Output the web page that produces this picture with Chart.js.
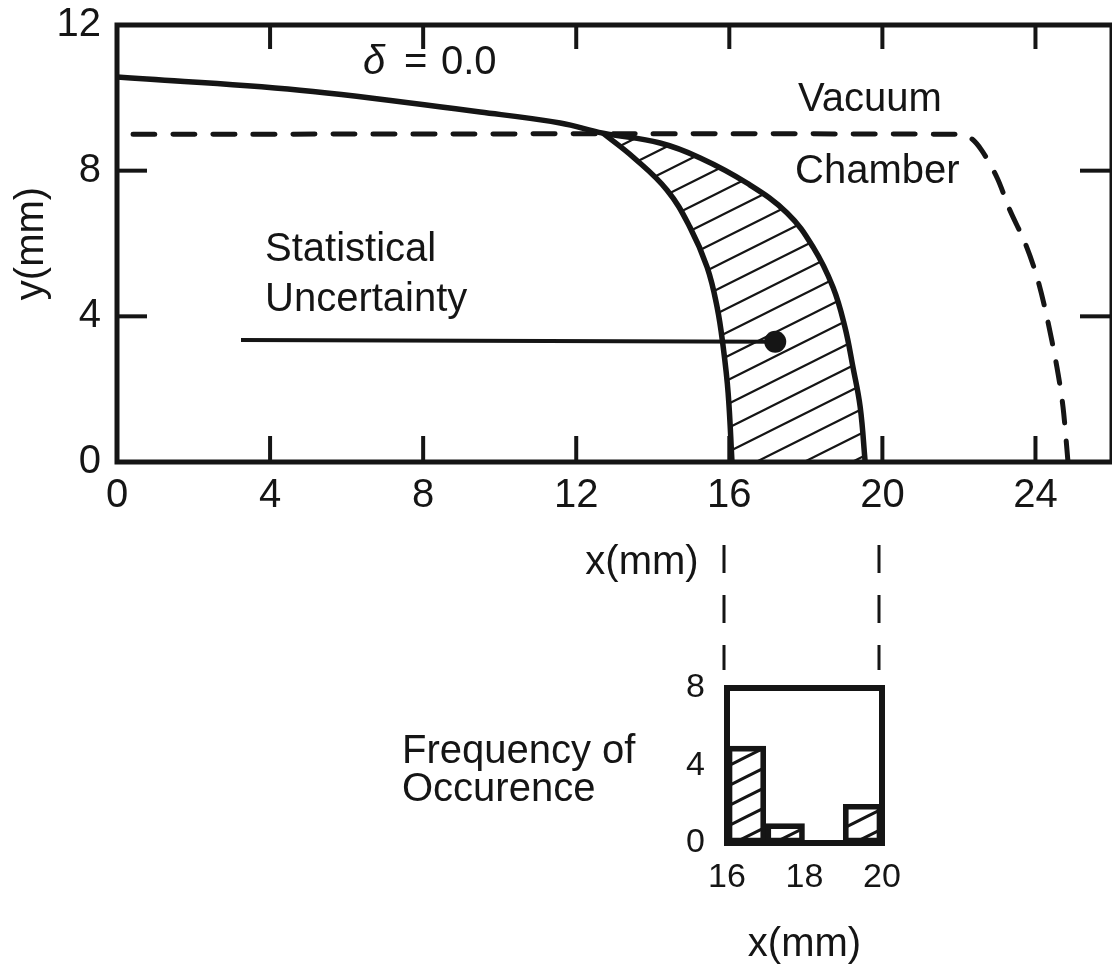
<!DOCTYPE html>
<html>
<head>
<meta charset="utf-8">
<script src="https://cdn.jsdelivr.net/npm/chart.js@4/dist/chart.umd.min.js"></script>
<style>
  html, body { margin: 0; padding: 0; background: #fff; }
  body { width: 1112px; height: 970px; position: relative; overflow: hidden; }
  canvas { position: absolute; }
  #main { left: 0; top: 0; }
  #inset { left: 380px; top: 520px; }
</style>
</head>
<body>
<canvas id="main" width="1112" height="600"></canvas>
<canvas id="inset" width="560" height="450"></canvas>
<script>
// beam envelope for delta = 0.0: top edge, then the outer side of the band
const envX = [0, 4.78, 9.49, 11.58, 12.7, 14.19, 15.24, 16.46, 17.51, 18.19, 18.71, 19.02, 19.23, 19.42, 19.55];
const envY = [10.57, 10.21, 9.61, 9.31, 9.03, 8.76, 8.35, 7.66, 6.84, 5.9, 4.8, 3.71, 2.61, 1.51, 0];
// inner side of the uncertainty band
const innerX = [12.7, 13.49, 14.37, 14.97, 15.42, 15.68, 15.84, 15.97, 16.07];
const innerY = [9.03, 8.37, 7.47, 6.45, 5.35, 4.26, 3.16, 1.89, 0];
// vacuum chamber wall (dashed)
const wallX = [0.42, 21.9, 22.3, 22.6, 23.0, 23.33, 23.73, 24.04, 24.3, 24.56, 24.72, 24.85];
const wallY = [9, 9, 8.9, 8.55, 7.8, 6.92, 6.01, 5.08, 3.98, 2.61, 1.51, 0];
// "Statistical Uncertainty" pointer and its dot
const pointerX = [3.24, 17.2];
const pointerY = [3.35, 3.3];

const xTicks = [0, 4, 8, 12, 16, 20, 24];
const yTicks = [0, 4, 8, 12];

// frequency of occurrence histogram
const binCenters = [16.5, 17.5, 18.5, 19.5];
const binCounts = [5, 1, 0, 2];
const histXTicks = [16, 18, 20];
const histYTicks = [0, 4, 8];

const ink = '#151515';
const family = "'Liberation Sans', Arial, Helvetica, sans-serif";
Chart.defaults.font.family = family;
Chart.defaults.color = ink;

function hatch(gap, width) {
  const c = document.createElement('canvas');
  c.width = gap * 2; c.height = gap;
  const g = c.getContext('2d');
  g.strokeStyle = ink; g.lineWidth = width;
  for (let k = -2; k <= 2; k++) {
    g.beginPath();
    g.moveTo(-gap * 2, gap * (k + 2));
    g.lineTo(gap * 4, gap * (k - 1));
    g.stroke();
  }
  return g.createPattern(c, 'repeat');
}

const pts = (xs, ys) => xs.map((x, i) => ({ x, y: ys[i] }));
const split = envX.indexOf(innerX[0]);
const band = pts(envX.slice(split), envY.slice(split)).concat(pts(innerX, innerY).reverse());

function seg(ctx, x1, y1, x2, y2) {
  ctx.beginPath(); ctx.moveTo(x1, y1); ctx.lineTo(x2, y2); ctx.stroke();
}

// keep the plot box where the figure has it, whatever the label sizes
function noPad(s) {
  s.paddingTop = 0; s.paddingBottom = 0; s.paddingLeft = 0; s.paddingRight = 0;
}

const mainFrame = {
  id: 'mainFrame',
  afterDatasetsDraw(chart) {
    const { ctx, chartArea: a, scales: { x, y } } = chart;
    ctx.save();
    ctx.strokeStyle = ink;
    ctx.lineWidth = 4;
    x.ticks.forEach(t => {
      if (t.value <= x.min || t.value >= x.max) return;
      const px = x.getPixelForValue(t.value);
      seg(ctx, px, a.bottom, px, a.bottom - 26);
      seg(ctx, px, a.top, px, a.top + 24);
    });
    y.ticks.forEach(t => {
      if (t.value <= y.min || t.value >= y.max) return;
      const py = y.getPixelForValue(t.value);
      seg(ctx, a.left, py, a.left + 30, py);
      seg(ctx, a.right, py, a.right - 32, py);
    });
    ctx.lineWidth = 5;
    ctx.strokeRect(a.left, a.top, a.right - a.left, a.bottom - a.top);

    ctx.fillStyle = ink;
    ctx.textBaseline = 'middle';
    ctx.textAlign = 'left';
    ctx.font = 'italic 40px ' + family;
    ctx.fillText('δ', 363, 63);
    ctx.font = '40px ' + family;
    ctx.fillText('=', 404, 63);
    ctx.fillText('0.0', 441, 63);
    ctx.fillText('Vacuum', 798, 100);
    ctx.fillText('Chamber', 795, 172);
    ctx.fillText('Statistical', 265, 250);
    ctx.fillText('Uncertainty', 265, 300);
    ctx.textAlign = 'center';
    ctx.fillText('x(mm)', 642, 563);
    ctx.restore();
  }
};

new Chart(document.getElementById('main'), {
  type: 'scatter',
  data: {
    datasets: [
      { data: pts(envX, envY), showLine: true, borderColor: ink, borderWidth: 5.5, tension: 0.4, pointRadius: 0 },
      { data: pts(innerX, innerY), showLine: true, borderColor: ink, borderWidth: 5.5, tension: 0.4, pointRadius: 0 },
      { data: pts(wallX, wallY), showLine: true, borderColor: ink, borderWidth: 5, borderDash: [22, 18],
        borderCapStyle: 'round', tension: 0.3, pointRadius: 0 },
      { data: pts(pointerX, pointerY), showLine: true, borderColor: ink, borderWidth: 4,
        pointRadius: [0, 11], pointBackgroundColor: ink, pointBorderWidth: 0 },
      { data: band, showLine: true, borderWidth: 0, borderColor: 'rgba(0,0,0,0)',
        backgroundColor: hatch(24, 2.2), fill: 'shape', tension: 0, pointRadius: 0 },
    ],
  },
  options: {
    responsive: false,
    animation: false,
    events: [],
    layout: { autoPadding: false, padding: { top: 25, right: 0, left: 0, bottom: 0 } },
    plugins: { legend: { display: false }, tooltip: { enabled: false } },
    scales: {
      x: {
        type: 'linear', min: 0, max: 26,
        afterBuildTicks: s => { s.ticks = xTicks.map(v => ({ value: v })); },
        afterFit: s => { s.height = 138; noPad(s); },
        grid: { display: false, drawTicks: false },
        border: { display: false },
        ticks: { font: { size: 40 }, padding: 10, maxRotation: 0, autoSkip: false },
      },
      y: {
        type: 'linear', min: 0, max: 12,
        afterBuildTicks: s => { s.ticks = yTicks.map(v => ({ value: v })); },
        afterFit: s => { s.width = 117; noPad(s); },
        grid: { display: false, drawTicks: false },
        border: { display: false },
        ticks: { font: { size: 40 }, padding: 16, autoSkip: false },
        title: { display: true, text: 'y(mm)', font: { size: 40 }, padding: { top: 8, bottom: 0 } },
      },
    },
  },
  plugins: [mainFrame],
});

const insetFrame = {
  id: 'insetFrame',
  afterDatasetsDraw(chart) {
    const { ctx, chartArea: a, scales: { x } } = chart;
    ctx.save();
    ctx.strokeStyle = ink;
    ctx.lineWidth = 6;
    ctx.strokeRect(a.left, a.top, a.right - a.left, a.bottom - a.top);
    // guide lines dropping from the main x axis
    ctx.lineWidth = 3;
    ctx.setLineDash([28, 22]);
    [x.min, x.max].forEach(v => {
      const px = x.getPixelForValue(v);
      seg(ctx, px - 3, 25, px - 3, 150);
    });
    ctx.setLineDash([]);
    ctx.fillStyle = ink;
    ctx.font = '40px ' + family;
    ctx.textBaseline = 'middle';
    ctx.textAlign = 'left';
    ctx.fillText('Frequency of', 22, 232);
    ctx.fillText('Occurence', 22, 270);
    ctx.restore();
  }
};

new Chart(document.getElementById('inset'), {
  type: 'bar',
  data: {
    datasets: [{
      data: pts(binCenters, binCounts),
      backgroundColor: hatch(20, 3),
      borderColor: ink,
      borderWidth: 5,
      borderSkipped: false,
      barPercentage: 1,
      categoryPercentage: 1,
    }],
  },
  options: {
    responsive: false,
    animation: false,
    events: [],
    layout: { autoPadding: false, padding: { top: 168, right: 58, left: 0, bottom: 0 } },
    plugins: { legend: { display: false }, tooltip: { enabled: false } },
    scales: {
      x: {
        type: 'linear', min: 16, max: 20, offset: false,
        afterBuildTicks: s => { s.ticks = histXTicks.map(v => ({ value: v })); },
        afterFit: s => { s.height = 127; noPad(s); },
        grid: { display: false, drawTicks: false },
        border: { display: false },
        ticks: { font: { size: 34 }, padding: 14, maxRotation: 0, autoSkip: false },
        title: { display: true, text: 'x(mm)', font: { size: 40 }, padding: { top: 0, bottom: 1 } },
      },
      y: {
        type: 'linear', min: 0, max: 8,
        afterBuildTicks: s => { s.ticks = histYTicks.map(v => ({ value: v })); },
        afterFit: s => { s.width = 347; noPad(s); },
        grid: { display: false, drawTicks: false },
        border: { display: false },
        ticks: { font: { size: 34 }, padding: 22, autoSkip: false },
      },
    },
  },
  plugins: [insetFrame],
});
</script>
</body>
</html>
